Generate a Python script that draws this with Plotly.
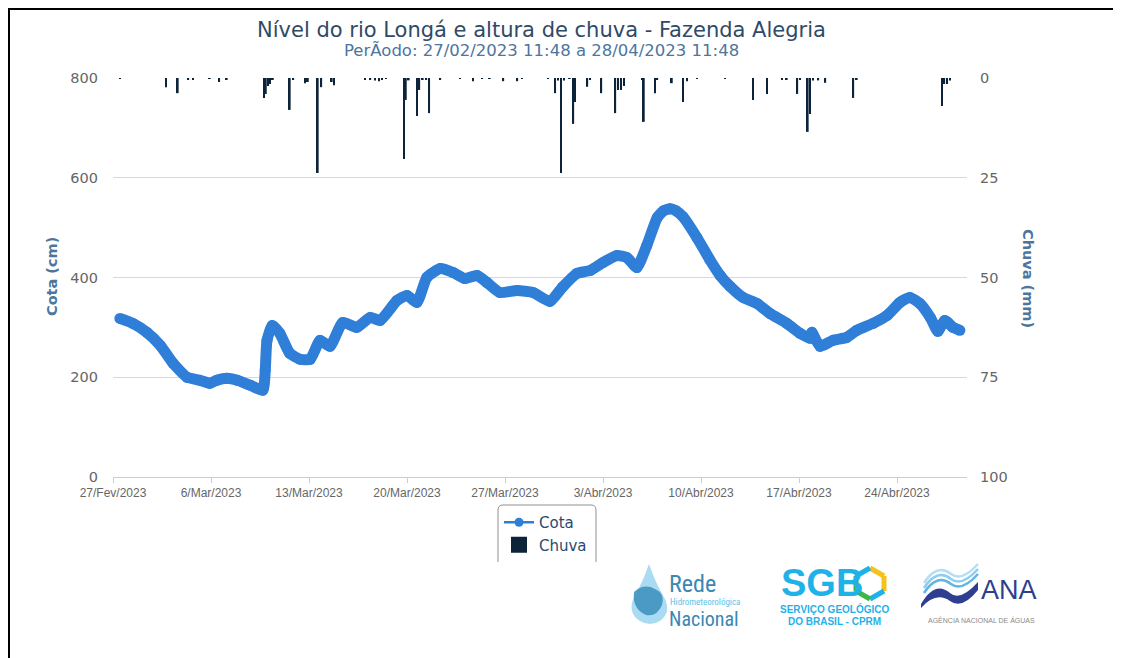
import plotly.graph_objects as go

# ---------------- data ----------------
cota_datas = ["2023-02-27 11:48","2023-02-28 10:00","2023-03-01 10:00","2023-03-02 09:00","2023-03-03 07:00",
    "2023-03-04 07:00","2023-03-05 05:00","2023-03-05 22:00","2023-03-06 10:00","2023-03-07 03:00",
    "2023-03-07 21:00","2023-03-08 19:00","2023-03-09 17:00","2023-03-09 21:00","2023-03-10 00:00",
    "2023-03-10 09:00","2023-03-10 22:00","2023-03-11 15:00","2023-03-12 09:00","2023-03-13 02:00",
    "2023-03-13 19:00","2023-03-14 12:00","2023-03-15 10:00","2023-03-16 10:00","2023-03-17 09:00",
    "2023-03-18 02:00","2023-03-19 07:00","2023-03-20 00:00","2023-03-20 17:00","2023-03-21 10:00",
    "2023-03-22 09:00","2023-03-23 07:00","2023-03-24 03:00","2023-03-25 00:00","2023-03-25 17:00",
    "2023-03-26 15:00","2023-03-27 21:00","2023-03-29 00:00","2023-03-30 05:00","2023-03-31 02:00",
    "2023-04-01 03:00","2023-04-02 02:00","2023-04-03 00:00","2023-04-04 00:00","2023-04-04 17:00",
    "2023-04-05 10:00","2023-04-06 03:00","2023-04-06 21:00","2023-04-07 08:00","2023-04-07 19:00",
    "2023-04-08 05:00","2023-04-08 17:00",
    "2023-04-09 17:00","2023-04-10 15:00","2023-04-11 09:00","2023-04-12 02:00","2023-04-13 00:00",
    "2023-04-14 00:00","2023-04-14 22:00","2023-04-16 03:00","2023-04-17 02:00","2023-04-17 19:00",
    "2023-04-17 22:00","2023-04-18 12:00","2023-04-19 10:00","2023-04-20 10:00","2023-04-21 03:00",
    "2023-04-22 07:00","2023-04-23 07:00","2023-04-24 05:00","2023-04-24 22:00","2023-04-25 15:00",
    "2023-04-26 09:00","2023-04-26 22:00","2023-04-27 10:00","2023-04-28 00:00","2023-04-28 11:48"]
cota_cm = [318,308,290,264,228,200,194,188,194,198,194,184,174,214,274,304,288,248,236,236,
    274,262,310,300,320,314,354,364,350,400,418,410,398,404,390,370,374,370,352,380,
    408,414,430,444,440,420,464,520,534,538,534,522,480,436,404,382,360,348,328,308,288,278,
    290,262,274,280,294,308,324,350,360,348,320,292,314,300,294]

chuva_datas = ["2023-02-27 12:00","2023-03-02 19:00","2023-03-03 15:00","2023-03-04 09:00","2023-03-04 17:00",
    "2023-03-05 22:00","2023-03-06 14:00","2023-03-07 03:00","2023-03-09 19:00","2023-03-09 22:00",
    "2023-03-10 02:00","2023-03-10 05:00","2023-03-10 10:00","2023-03-11 15:00","2023-03-11 21:00",
    "2023-03-12 17:00","2023-03-12 22:00","2023-03-13 15:00","2023-03-13 21:00","2023-03-14 15:00",
    "2023-03-14 19:00","2023-03-17 00:00","2023-03-17 09:00","2023-03-17 17:00","2023-03-18 00:00",
    "2023-03-18 05:00","2023-03-18 12:00","2023-03-19 19:00","2023-03-19 22:00","2023-03-20 03:00",
    "2023-03-20 17:00","2023-03-20 21:00","2023-03-21 03:00","2023-03-21 09:00","2023-03-21 14:00",
    "2023-03-22 09:00","2023-03-23 19:00","2023-03-24 17:00","2023-03-25 09:00","2023-03-25 22:00",
    "2023-03-26 21:00","2023-03-27 21:00","2023-03-28 05:00","2023-03-30 02:00","2023-03-30 14:00",
    "2023-03-30 19:00","2023-03-31 00:00","2023-03-31 05:00","2023-03-31 15:00","2023-03-31 21:00",
    "2023-04-01 00:00","2023-04-01 21:00","2023-04-02 02:00","2023-04-02 21:00","2023-04-03 21:00",
    "2023-04-04 02:00","2023-04-04 07:00","2023-04-04 12:00","2023-04-05 19:00","2023-04-05 22:00",
    "2023-04-06 17:00","2023-04-06 21:00","2023-04-07 22:00","2023-04-08 17:00","2023-04-09 00:00",
    "2023-04-09 17:00","2023-04-11 17:00","2023-04-13 17:00","2023-04-14 17:00","2023-04-15 19:00",
    "2023-04-16 03:00","2023-04-16 21:00","2023-04-17 02:00","2023-04-17 15:00","2023-04-17 19:00",
    "2023-04-18 00:00","2023-04-18 09:00","2023-04-18 21:00","2023-04-20 21:00","2023-04-21 03:00",
    "2023-04-27 05:00","2023-04-27 09:00","2023-04-27 14:00","2023-04-27 19:00"]
chuva_mm = [0.2,2.3,3.8,0.3,0.3,0.2,1.0,0.3,5.0,4.0,2.0,1.5,0.3,8.0,0.5,1.3,1.0,23.8,2.3,1.0,
    1.8,0.3,0.3,0.6,0.8,0.5,0.2,20.3,5.5,0.6,9.5,3.0,0.5,0.5,8.8,0.5,0.2,0.8,0.2,0.2,
    0.8,0.8,0.2,0.2,3.8,0.6,23.8,0.6,0.2,11.5,6.0,2.2,0.5,3.8,8.8,3.0,3.0,2.0,0.5,11.0,
    3.8,0.5,1.3,6.0,0.8,0.2,0.2,5.5,4.0,0.5,0.5,4.0,0.5,13.5,9.0,0.6,0.6,1.2,5.0,0.5,
    7.0,1.5,1.5,0.6]

x_tick_datas = ["2023-02-27","2023-03-06","2023-03-13","2023-03-20","2023-03-27",
                "2023-04-03","2023-04-10","2023-04-17","2023-04-24"]
x_tick_labels = ["27/Fev/2023","6/Mar/2023","13/Mar/2023","20/Mar/2023","27/Mar/2023",
                 "3/Abr/2023","10/Abr/2023","17/Abr/2023","24/Abr/2023"]
cota_ticks = [0, 200, 400, 600, 800]
chuva_ticks = [0, 25, 50, 75, 100]

titulo = "Nível do rio Longá e altura de chuva - Fazenda Alegria"
subtitulo = "PerÃodo: 27/02/2023 11:48 a 28/04/2023 11:48"

# ---------------- layout helpers (page pixel coords) ----------------
OFF = 8                      # the page body margin
W, H = 1121 - OFF, 658 - OFF
PL, PR, PT, PB = 113, 967, 78, 477


def px(x):
    return (x - PL) / (PR - PL)


def py(y):
    return (PB - y) / (PB - PT)


def path(cmds):
    out = []
    for c in cmds:
        if c[0] == "Z":
            out.append("Z")
            continue
        vals = c[1:]
        pts = []
        for i in range(0, len(vals), 2):
            pts.append(f"{px(vals[i]):.5f},{py(vals[i+1]):.5f}")
        out.append(c[0] + " " + " ".join(pts))
    return " ".join(out)


BLUE = "#2f7ed8"
NAVY = "#0d233a"
FONT = "DejaVu Sans"

fig = go.Figure()

fig.add_trace(go.Bar(
    x=chuva_datas, y=chuva_mm, name="Chuva", yaxis="y2",
    marker=dict(color=NAVY, line=dict(width=0)),
    width=3 * 3600 * 1000, showlegend=False,
))
fig.add_trace(go.Scatter(
    x=cota_datas, y=cota_cm, name="Cota", mode="lines+markers",
    line=dict(color=BLUE, width=11, shape="spline", smoothing=0.5),
    marker=dict(color=BLUE, size=11),
    showlegend=False,
))
# legend entries
fig.add_trace(go.Scatter(
    x=[None], y=[None], name="Cota", mode="lines+markers",
    line=dict(color=BLUE, width=2.5), marker=dict(color=BLUE, size=9),
))
fig.add_trace(go.Scatter(
    x=[None], y=[None], name="Chuva", mode="markers", yaxis="y2",
    marker=dict(color=NAVY, symbol="square", size=16),
))

shapes = []
# outer frame (top and left)
shapes.append(dict(type="line", xref="paper", yref="paper", x0=px(7), x1=px(1125), y0=py(8.5), y1=py(8.5),
                   line=dict(color="black", width=3)))
shapes.append(dict(type="line", xref="paper", yref="paper", x0=px(8.5), x1=px(8.5), y0=py(7), y1=py(662),
                   line=dict(color="black", width=3)))
# legend box (open at the bottom)
shapes.append(dict(type="path", xref="paper", yref="paper",
                   path=path([("M", 498, 562), ("L", 498, 510), ("Q", 498, 505, 503, 505),
                              ("L", 591, 505), ("Q", 596, 505, 596, 510), ("L", 596, 562)]),
                   line=dict(color="#909090", width=1)))

# --- logo: Rede Hidrometeorológica Nacional ---
shapes.append(dict(type="path", xref="paper", yref="paper",
                   path=path([("M", 649, 564), ("Q", 642, 584, 634, 597), ("Q", 627, 613, 640, 621),
                              ("Q", 650, 627, 660, 621), ("Q", 672, 612, 664, 597), ("Q", 656, 584, 649, 564), ("Z",)]),
                   fillcolor="#a9dcf2", line=dict(width=0)))
shapes.append(dict(type="path", xref="paper", yref="paper",
                   path=path([("M", 634, 592), ("Q", 644, 583, 655, 589), ("Q", 665, 593, 662, 605),
                              ("Q", 657, 617, 646, 615), ("Q", 632, 609, 634, 592), ("Z",)]),
                   fillcolor="#3b8dbd", opacity=0.85, line=dict(width=0)))
# --- logo: SGB hexagon ---
hexv = [(870, 568), (884, 576), (884, 591), (870, 599), (856, 591), (856, 576)]
hexcol = ["#f5c21b", "#f5c21b", "#1fb2e8", "#3cb54a", "#3cb54a", "#1fb2e8"]
for i in range(6):
    a = hexv[i]
    b = hexv[(i + 1) % 6]
    shapes.append(dict(type="line", xref="paper", yref="paper", x0=px(a[0]), y0=py(a[1]),
                       x1=px(b[0]), y1=py(b[1]), line=dict(color=hexcol[i], width=5)))
# --- logo: ANA waves ---
shapes.append(dict(type="path", xref="paper", yref="paper",
                   path=path([("M", 921, 604), ("Q", 935, 580, 950, 593), ("Q", 960, 602, 978, 582),
                              ("L", 978, 590), ("Q", 962, 610, 950, 601), ("Q", 936, 591, 921, 608), ("Z",)]),
                   fillcolor="#2d3f8e", line=dict(width=0)))
for dy, col in [(-7, "#5db6e4"), (-12, "#8fcdee"), (-17, "#b5def4")]:
    shapes.append(dict(type="path", xref="paper", yref="paper",
                       path=path([("M", 924, 600 + dy), ("Q", 937, 580 + dy, 951, 591 + dy),
                                  ("Q", 962, 599 + dy, 978, 581 + dy)]),
                       line=dict(color=col, width=2.5)))

ann = []
ann.append(dict(text=titulo, x=px(541), y=py(30), xref="paper", yref="paper", showarrow=False,
                xanchor="center", yanchor="middle", font=dict(family=FONT, size=21, color="#2f4a66")))
ann.append(dict(text=subtitulo, x=px(541), y=py(51), xref="paper", yref="paper", showarrow=False,
                xanchor="center", yanchor="middle", font=dict(family=FONT, size=16.5, color="#4d759e")))
ann.append(dict(text="<b>Cota (cm)</b>", x=px(52), y=py(277), xref="paper", yref="paper", showarrow=False,
                xanchor="center", yanchor="middle", textangle=-90,
                font=dict(family=FONT, size=14.5, color="#4d759e")))
ann.append(dict(text="<b>Chuva (mm)</b>", x=px(1028), y=py(278), xref="paper", yref="paper", showarrow=False,
                xanchor="center", yanchor="middle", textangle=90,
                font=dict(family=FONT, size=14.5, color="#4d759e")))
# logo texts
NARROW = "Liberation Sans Narrow, Roboto Condensed, Liberation Sans"
ann.append(dict(text="Rede", x=px(667), y=py(584), xref="paper", yref="paper", showarrow=False,
                xanchor="left", yanchor="middle", font=dict(family=NARROW, size=24, color="#3a87b4")))
ann.append(dict(text="Hidrometeorológica", x=px(668), y=py(602), xref="paper", yref="paper", showarrow=False,
                xanchor="left", yanchor="middle", font=dict(family=NARROW, size=9, color="#5bc2e7")))
ann.append(dict(text="Nacional", x=px(667), y=py(619), xref="paper", yref="paper", showarrow=False,
                xanchor="left", yanchor="middle", font=dict(family=NARROW, size=20, color="#3a87b4")))
ann.append(dict(text="<b>SGB</b>", x=px(779), y=py(583), xref="paper", yref="paper", showarrow=False,
                xanchor="left", yanchor="middle", font=dict(family="Liberation Sans", size=38, color="#1fb2e8")))
ann.append(dict(text="<b>SERVIÇO GEOLÓGICO</b>", x=px(834), y=py(609), xref="paper", yref="paper", showarrow=False,
                xanchor="center", yanchor="middle", font=dict(family="Liberation Sans", size=10, color="#1fb2e8")))
ann.append(dict(text="<b>DO BRASIL - CPRM</b>", x=px(834), y=py(621), xref="paper", yref="paper", showarrow=False,
                xanchor="center", yanchor="middle", font=dict(family="Liberation Sans", size=10, color="#1fb2e8")))
ann.append(dict(text="ANA", x=px(979), y=py(590), xref="paper", yref="paper", showarrow=False,
                xanchor="left", yanchor="middle", font=dict(family="Liberation Sans", size=27, color="#2d3f8e")))
ann.append(dict(text="AGÊNCIA NACIONAL DE ÁGUAS", x=px(981), y=py(620), xref="paper", yref="paper", showarrow=False,
                xanchor="center", yanchor="middle", font=dict(family="Liberation Sans", size=7, color="#8a8a8a")))

fig.update_layout(
    width=W, height=H,
    margin=dict(l=PL - OFF, r=W - (PR - OFF), t=PT - OFF, b=H - (PB - OFF), pad=0),
    paper_bgcolor="white", plot_bgcolor="white",
    font=dict(family=FONT, color="#666666"),
    xaxis=dict(type="date", range=["2023-02-27", "2023-04-29"],
               tickvals=x_tick_datas, ticktext=x_tick_labels,
               showline=True, linecolor="#C0D0E0", linewidth=1,
               ticks="outside", ticklen=5, tickcolor="#C0D0E0",
               showgrid=False, zeroline=False,
               tickfont=dict(family="Liberation Sans", size=12, color="#666666")),
    yaxis=dict(range=[0, 800], tickvals=cota_ticks, showgrid=True, gridcolor="#D8D8D8", gridwidth=1,
               zeroline=False, showline=False, ticks="", ticklabelstandoff=14,
               tickfont=dict(family=FONT, size=14.5, color="#666666")),
    yaxis2=dict(range=[100, 0], tickvals=chuva_ticks, overlaying="y", side="right",
                showgrid=False, zeroline=False, showline=False, ticks="", ticklabelstandoff=12,
                tickfont=dict(family=FONT, size=14.5, color="#666666")),
    legend=dict(x=px(499), y=py(506), xanchor="left", yanchor="top", orientation="v",
                bgcolor="rgba(0,0,0,0)", borderwidth=0, traceorder="normal", itemsizing="trace",
                font=dict(family=FONT, size=15, color="#274b6d")),
    shapes=shapes, annotations=ann,
    showlegend=True,
)

fig.write_html("out.html")
